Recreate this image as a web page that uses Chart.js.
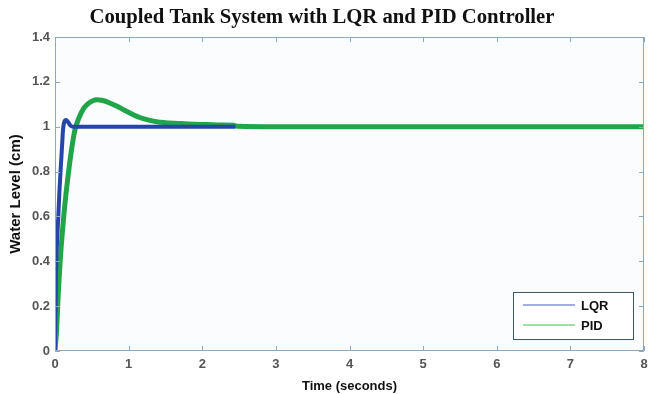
<!DOCTYPE html>
<html>
<head>
<meta charset="utf-8">
<script src="https://cdn.jsdelivr.net/npm/chart.js@4/dist/chart.umd.min.js"></script>
<style>
  html, body { margin: 0; padding: 0; background: #ffffff; }
  #wrap { width: 648px; height: 394px; }
</style>
</head>
<body>
<div id="wrap"><canvas id="c" width="648" height="394"></canvas></div>
<script>
const chartTitle = "Coupled Tank System with LQR and PID Controller";
const xAxisTitle = "Time (seconds)";
const yAxisTitle = "Water Level (cm)";
const seriesNames = ["LQR", "PID"];

const lqrTime  = [0, 0.014, 0.03, 0.045, 0.06, 0.077, 0.095, 0.11, 0.13, 0.15, 0.18, 0.21, 0.25, 1, 2, 2.45];
const lqrLevel = [0, 0.35, 0.5, 0.6, 0.71, 0.81, 0.91, 0.99, 1.025, 1.03, 1.02, 1.005, 1.0, 1.0, 1.0, 1.0];

const pidTime  = [0, 0.023, 0.045, 0.068, 0.1, 0.136, 0.17, 0.2, 0.235, 0.27, 0.32, 0.385, 0.45, 0.52, 0.57, 0.65, 0.75, 0.85, 0.93, 1.05, 1.16, 1.27, 1.38, 1.5, 1.7, 1.9, 2.06, 2.25, 2.42, 2.48, 3, 4, 5, 6, 7, 8];
const pidLevel = [0, 0.1, 0.26, 0.39, 0.53, 0.66, 0.76, 0.84, 0.92, 0.985, 1.035, 1.08, 1.103, 1.117, 1.12, 1.117, 1.105, 1.09, 1.076, 1.056, 1.04, 1.03, 1.022, 1.018, 1.014, 1.011, 1.01, 1.008, 1.007, 1.002, 1.0, 1.0, 1.0, 1.0, 1.0, 1.0];

const xTicks = [0, 1, 2, 3, 4, 5, 6, 7, 8];
const yTicks = [0, 0.2, 0.4, 0.6, 0.8, 1, 1.2, 1.4];

const lqrColor = "#2546a6";
const pidColor = "#20a648";
const axisColor = "#8aa8c0";

const toPts = (xs, ys) => xs.map((x, i) => ({ x: x, y: ys[i] }));

const plotBg = {
  id: "plotBg",
  beforeDraw(chart) {
    const { ctx, chartArea: a } = chart;
    ctx.save();
    ctx.fillStyle = "#fbfcfe";
    ctx.fillRect(a.left, a.top, a.right - a.left, a.bottom - a.top);
    ctx.restore();
  }
};

const boxTicks = {
  id: "boxTicks",
  afterDatasetsDraw(chart) {
    const { ctx, chartArea: a, scales } = chart;
    ctx.save();
    ctx.strokeStyle = axisColor;
    ctx.lineWidth = 1;
    ctx.beginPath();
    ctx.rect(a.left + 0.5, a.top + 0.5, a.right - a.left - 1, a.bottom - a.top - 1);
    const L = 5;
    xTicks.forEach(v => {
      const px = Math.round(scales.x.getPixelForValue(v)) + 0.5;
      ctx.moveTo(px, a.bottom); ctx.lineTo(px, a.bottom - L);
      ctx.moveTo(px, a.top); ctx.lineTo(px, a.top + L);
    });
    yTicks.forEach(v => {
      const py = Math.round(scales.y.getPixelForValue(v)) + 0.5;
      ctx.moveTo(a.left, py); ctx.lineTo(a.left + L, py);
      ctx.moveTo(a.right, py); ctx.lineTo(a.right - L, py);
    });
    ctx.stroke();
    ctx.restore();
  }
};

const boxLegend = {
  id: "boxLegend",
  afterDraw(chart) {
    const { ctx, chartArea: a } = chart;
    const w = 120, h = 47;
    const x0 = a.right - 11 - w, y0 = a.bottom - 12 - h;
    ctx.save();
    ctx.fillStyle = "#ffffff";
    ctx.fillRect(x0, y0, w, h);
    ctx.strokeStyle = "#3d5566";
    ctx.lineWidth = 1;
    ctx.strokeRect(x0 + 0.5, y0 + 0.5, w, h);
    const cols = ["#8391dc", "#80d48c"];
    ctx.font = "bold 13px 'Liberation Sans', Arial, sans-serif";
    ctx.textBaseline = "middle";
    chart.data.datasets.forEach((ds, i) => {
      const yy = y0 + 13 + i * 20;
      ctx.strokeStyle = cols[i];
      ctx.lineWidth = 1.5;
      ctx.beginPath();
      ctx.moveTo(x0 + 10, yy); ctx.lineTo(x0 + 62, yy);
      ctx.stroke();
      ctx.fillStyle = "#111111";
      ctx.fillText(ds.label, x0 + 68, yy + 1);
    });
    ctx.restore();
  }
};

new Chart(document.getElementById("c"), {
  type: "line",
  data: {
    datasets: [
      {
        label: seriesNames[0],
        data: toPts(lqrTime, lqrLevel),
        borderColor: lqrColor,
        borderWidth: 4,
        pointRadius: 0,
        cubicInterpolationMode: "monotone",
        fill: false
      },
      {
        label: seriesNames[1],
        data: toPts(pidTime, pidLevel),
        borderColor: pidColor,
        borderWidth: 5,
        pointRadius: 0,
        cubicInterpolationMode: "monotone",
        fill: false
      }
    ]
  },
  options: {
    responsive: false,
    animation: false,
    devicePixelRatio: 1,
    layout: { padding: { left: 0, right: 4, top: 0, bottom: 0 } },
    plugins: {
      legend: { display: false },
      tooltip: { enabled: false },
      title: {
        display: true,
        text: chartTitle,
        color: "#111111",
        font: { family: "'Liberation Serif', 'Times New Roman', serif", size: 20.7, weight: "bold", lineHeight: 1.2 },
        padding: { top: 5, bottom: 7.2 }
      }
    },
    scales: {
      x: {
        type: "linear",
        min: 0, max: 8,
        afterFit(s) { s.height = 43; s.paddingLeft = 0; s.paddingRight = 0; },
        afterBuildTicks(s) { s.ticks = xTicks.map(v => ({ value: v })); },
        grid: { display: false, drawTicks: false },
        border: { display: false },
        ticks: {
          padding: 6,
          color: "#555555",
          font: { family: "'Liberation Sans', Arial, sans-serif", size: 13, weight: "bold" },
          callback: v => String(v)
        },
        title: {
          display: true,
          text: xAxisTitle,
          color: "#111111",
          font: { family: "'Liberation Sans', Arial, sans-serif", size: 13, weight: "bold" },
          padding: { top: 2, bottom: 0 }
        }
      },
      y: {
        type: "linear",
        min: 0, max: 1.4,
        afterFit(s) { s.width = 55; s.paddingTop = 0; s.paddingBottom = 0; },
        afterBuildTicks(s) { s.ticks = yTicks.map(v => ({ value: v })); },
        grid: { display: false, drawTicks: false },
        border: { display: false },
        ticks: {
          padding: 5,
          color: "#555555",
          font: { family: "'Liberation Sans', Arial, sans-serif", size: 13, weight: "bold" },
          callback: v => String(Number(v.toFixed(1)))
        },
        title: {
          display: true,
          text: yAxisTitle,
          color: "#111111",
          font: { family: "'Liberation Sans', Arial, sans-serif", size: 15, weight: "bold" },
          padding: { top: 7, bottom: 0 }
        }
      }
    }
  },
  plugins: [plotBg, boxTicks, boxLegend]
});
</script>
</body>
</html>
